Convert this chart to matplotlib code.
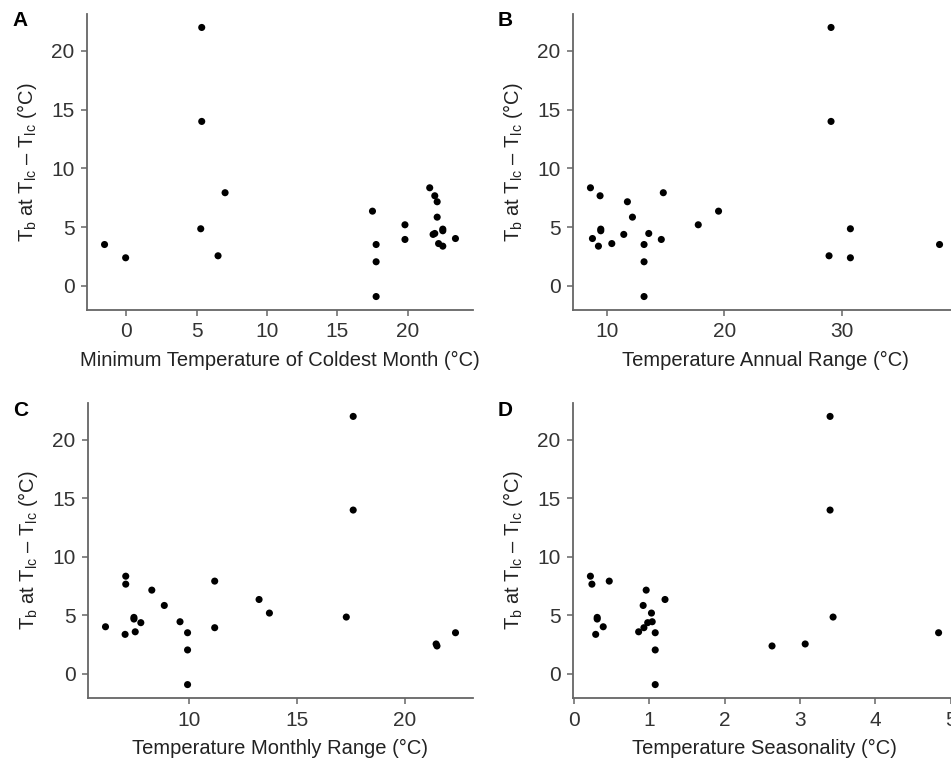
import numpy as np
import matplotlib.pyplot as plt

plt.rcParams['font.family'] = ['Liberation Sans', 'DejaVu Sans']
plt.rcParams['mathtext.fontset'] = 'custom'
plt.rcParams['mathtext.rm'] = 'Liberation Sans'

# body temperature offset at lower critical temperature, one value per species
tb_diff = [22.0, 14.0, 8.35, 7.93, 7.67, 7.16, 6.36, 5.85, 5.2, 4.86, 4.83, 4.69,
           4.46, 4.38, 4.03, 3.95, 3.6, 3.52, 3.52, 3.38, 2.56, 2.39, 2.05, -0.91]

# climate variables for the same species
min_temp_coldest = [5.36, 5.36, 21.57, 7.02, 21.93, 22.1, 17.5, 22.1, 19.81, 5.29, 22.5, 22.5,
                    21.93, 21.81, 23.4, 19.81, 22.2, 17.76, -1.55, 22.5, 6.52, -0.05, 17.76, 17.76]
annual_range = [29.09, 29.09, 8.58, 14.79, 9.40, 11.73, 19.5, 12.16, 17.77, 30.74, 9.46, 9.46,
                13.55, 11.42, 8.75, 14.62, 10.4, 13.15, 38.34, 9.26, 28.92, 30.74, 13.15, 13.15]
monthly_range = [17.61, 17.61, 7.05, 11.18, 7.05, 8.26, 13.24, 8.84, 13.72, 17.29, 7.43, 7.43,
                 9.57, 7.75, 6.11, 11.18, 7.49, 9.92, 22.36, 7.02, 21.46, 21.5, 9.92, 9.92]
seasonality = [3.40, 3.40, 0.22, 0.47, 0.24, 0.96, 1.21, 0.92, 1.03, 3.44, 0.31, 0.31,
               1.04, 0.98, 0.39, 0.93, 0.86, 1.08, 4.84, 0.29, 3.07, 2.63, 1.08, 1.08]

panels = [
    ('A', min_temp_coldest, 'Minimum Temperature of Coldest Month (°C)', [0, 5, 10, 15, 20]),
    ('B', annual_range, 'Temperature Annual Range (°C)', [10, 20, 30]),
    ('C', monthly_range, 'Temperature Monthly Range (°C)', [10, 15, 20]),
    ('D', seasonality, 'Temperature Seasonality (°C)', [0, 1, 2, 3, 4, 5]),
]

W, H = 951, 761
# axes boxes in pixels: left, top, right, bottom
boxes = [(87, 14, 473, 310), (573, 14, 957, 310),
         (88, 403, 473, 698), (573, 403, 956, 698)]

fig = plt.figure(figsize=(W / 100, H / 100), dpi=100)
axcol = '#666666'
ylab = r'T$_\mathrm{b}$ at T$_\mathrm{lc}$ – T$_\mathrm{lc}$ (°C)'

for (tag, xs, xlabel, xticks), (l, t, r, b) in zip(panels, boxes):
    ax = fig.add_axes([l / W, 1 - b / H, (r - l) / W, (b - t) / H])
    ax.scatter(xs, tb_diff, s=26, color='black', edgecolors='none', zorder=3)
    xmin, xmax = min(xs), max(xs)
    pad = (xmax - xmin) * 0.05
    ax.set_xlim(xmin - pad, xmax + pad)
    ymin, ymax = min(tb_diff), max(tb_diff)
    ypad = (ymax - ymin) * 0.05
    ax.set_ylim(ymin - ypad, ymax + ypad)
    ax.set_xticks(xticks)
    ax.set_yticks([0, 5, 10, 15, 20])
    for side in ('top', 'right'):
        ax.spines[side].set_visible(False)
    for side in ('left', 'bottom'):
        ax.spines[side].set_color(axcol)
        ax.spines[side].set_linewidth(1.3)
    ax.tick_params(colors=axcol, length=4, width=1.1, labelsize=15,
                   labelcolor='#333333', pad=5)
    ax.set_xlabel(xlabel, fontsize=14.5, color='#222222', labelpad=7)
    ax.set_ylabel(ylab, fontsize=14.5, color='#222222', labelpad=9)
    fig.text((l - 75) / W, 1 - (t + 7) / H, tag, fontsize=15, fontweight='bold',
             ha='left', va='center')

fig.savefig('out.png', dpi=100)
